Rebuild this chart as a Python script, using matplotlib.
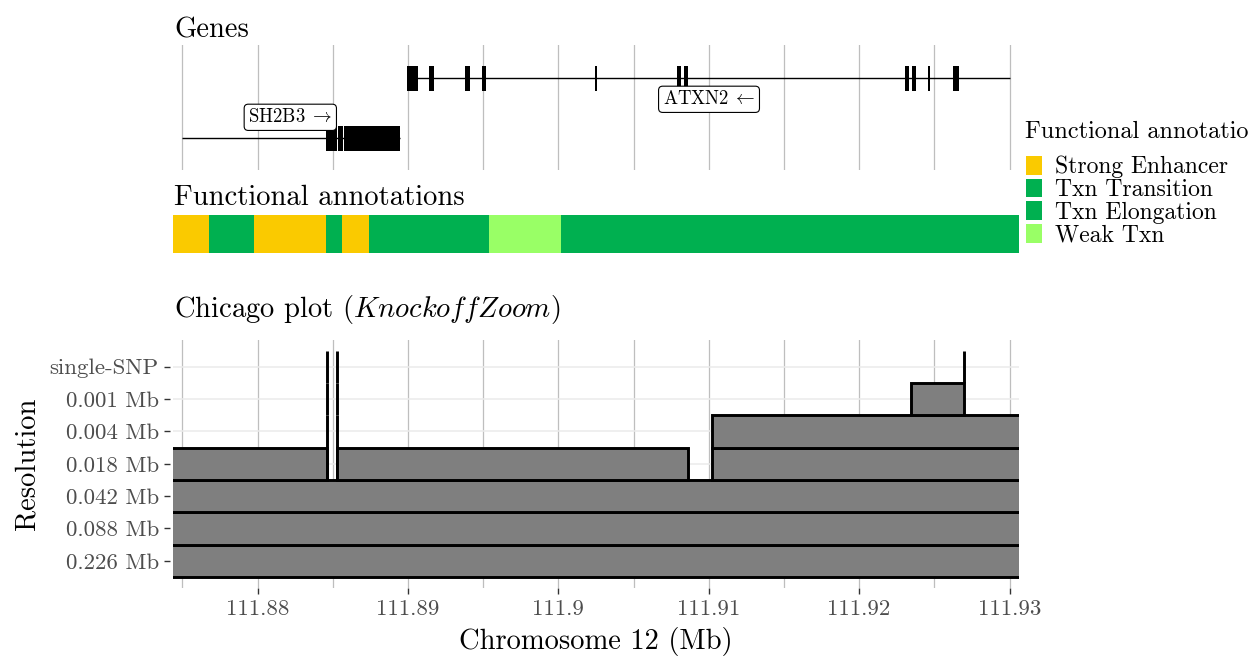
import matplotlib

matplotlib.use("Agg")

from matplotlib import pyplot as plt
from matplotlib.patches import Rectangle

plt.rcParams["font.family"] = "cmr10"
plt.rcParams["mathtext.fontset"] = "cm"
plt.rcParams["axes.formatter.use_mathtext"] = True

W, H = 1249, 656
X_MIN, X_MAX = 111.87438, 111.93063
MAJOR_TICKS = [111.88, 111.89, 111.90, 111.91, 111.92, 111.93]
MAJOR_LABELS = ["111.88", "111.89", "111.9", "111.91", "111.92", "111.93"]
MINOR_TICKS = [111.875, 111.885, 111.895, 111.905, 111.915, 111.925]

# genes (Mb)
GENE_NAMES = ["ATXN2", "SH2B3"]
GENE_ARROWS = [r"$\;\leftarrow$", r"$\;\rightarrow$"]
GENE_ROWS = [2, 1]
GENE_START = [111.88996, 111.87500]
GENE_END = [111.93000, 111.88947]
GENE_LABEL_X = [111.91002, 111.88218]
GENE_LABEL_OFFSET = [-0.35, 0.35]

ATXN2_EXON_START = [111.88996, 111.89142, 111.89382, 111.89495, 111.90247, 111.90791,
                    111.90836, 111.92307, 111.92350, 111.92458, 111.92626]
ATXN2_EXON_END = [111.89069, 111.89174, 111.89413, 111.89519, 111.90254, 111.90818,
                  111.90864, 111.92330, 111.92376, 111.92471, 111.92666]
SH2B3_EXON_START = [111.88453, 111.88535, 111.88572]
SH2B3_EXON_END = [111.88529, 111.88565, 111.88947]

# chromatin states along the locus
FA_START = [111.87438, 111.87677, 111.87977, 111.88455, 111.88562, 111.88741, 111.89539, 111.90016]
FA_END = [111.87677, 111.87977, 111.88455, 111.88562, 111.88741, 111.89539, 111.90016, 111.93063]
FA_STATE = ["Strong Enhancer", "Txn Transition", "Strong Enhancer", "Txn Elongation",
            "Strong Enhancer", "Txn Transition", "Weak Txn", "Txn Elongation"]
STATE_NAMES = ["Strong Enhancer", "Txn Transition", "Txn Elongation", "Weak Txn"]
STATE_COLORS = ["#FACA00", "#00B050", "#00B050", "#99FF66"]

# KnockoffZoom discoveries: resolution level, start, end (Mb)
RES_LABELS = ["0.226 Mb", "0.088 Mb", "0.042 Mb", "0.018 Mb", "0.004 Mb", "0.001 Mb", "single-SNP"]
CHI_LEVEL = [1, 2, 3,
             4, 4, 4, 4, 4,
             5, 5, 5,
             6, 6, 6,
             7, 7, 7]
CHI_START = [111.870, 111.870, 111.870,
             111.870, 111.88460, 111.88531, 111.88531, 111.91022,
             111.88460, 111.88531, 111.91022,
             111.88460, 111.88531, 111.92345,
             111.88460, 111.88531, 111.92695]
CHI_END = [111.935, 111.935, 111.935,
           111.88460, 111.884601, 111.885311, 111.90860, 111.935,
           111.884601, 111.885311, 111.935,
           111.884601, 111.885311, 111.92695,
           111.884601, 111.885311, 111.926951]


def px_axes(fig, left, top, right, bottom):
    return fig.add_axes([left / W, 1 - bottom / H, (right - left) / W, (bottom - top) / H])


def clean_axes(ax):
    for spine in ax.spines.values():
        spine.set_visible(False)
    ax.set_xlim(X_MIN, X_MAX)


def vertical_grid(ax):
    for x in MAJOR_TICKS + MINOR_TICKS:
        ax.axvline(x, color="#BEBEBE", linewidth=0.9, zorder=0)


fig = plt.figure(figsize=(W / 100, H / 100), dpi=100)

# genes track
ax_g = px_axes(fig, 173, 45, 1019, 170)
clean_axes(ax_g)
vertical_grid(ax_g)
ax_g.set_ylim(0.472, 2.555)
ax_g.set_xticks([])
ax_g.set_yticks([])
ax_g.hlines(GENE_ROWS, GENE_START, GENE_END, color="black", linewidth=1.0, zorder=2)
exon_h = 0.42
ax_g.broken_barh([(s, e - s) for s, e in zip(ATXN2_EXON_START, ATXN2_EXON_END)],
                 (GENE_ROWS[0] - exon_h / 2, exon_h), facecolor="black", zorder=3)
ax_g.broken_barh([(s, e - s) for s, e in zip(SH2B3_EXON_START, SH2B3_EXON_END)],
                 (GENE_ROWS[1] - exon_h / 2, exon_h), facecolor="black", zorder=3)
for name, arrow, row, lx, off in zip(GENE_NAMES, GENE_ARROWS, GENE_ROWS, GENE_LABEL_X, GENE_LABEL_OFFSET):
    ax_g.text(lx, row + off, f"{name}{arrow}", ha="center", va="center", fontsize=13.5,
              zorder=4, bbox=dict(boxstyle="round,pad=0.22", facecolor="white",
                                  edgecolor="black", linewidth=0.8))

# functional annotation track
ax_f = px_axes(fig, 173, 215, 1019, 253)
clean_axes(ax_f)
ax_f.set_ylim(0, 1)
ax_f.set_xticks([])
ax_f.set_yticks([])
state_color = dict(zip(STATE_NAMES, STATE_COLORS))
for s, e, st in zip(FA_START, FA_END, FA_STATE):
    ax_f.broken_barh([(s, e - s)], (0, 1), facecolor=state_color[st], edgecolor="none")

# chicago plot
ax_c = px_axes(fig, 173, 340, 1019, 588)
clean_axes(ax_c)
ax_c.set_ylim(0.16, 7.825)
vertical_grid(ax_c)
for lvl in range(1, len(RES_LABELS) + 1):
    ax_c.axhline(lvl, color="#EBEBEB", linewidth=1.1, zorder=0)
widths = [e - s for s, e in zip(CHI_START, CHI_END)]
bottoms = [lvl - 0.5 for lvl in CHI_LEVEL]
ax_c.bar(CHI_START, [1] * len(CHI_LEVEL), width=widths, bottom=bottoms, align="edge",
         color="#7F7F7F", edgecolor="black", linewidth=2.1, zorder=2)

ax_c.set_yticks(range(1, len(RES_LABELS) + 1))
ax_c.set_yticklabels(RES_LABELS)
ax_c.set_xticks(MAJOR_TICKS)
ax_c.set_xticklabels(MAJOR_LABELS)
ax_c.spines["left"].set_position(("outward", 2.2))
ax_c.tick_params(axis="both", colors="#333333", labelcolor="#4D4D4D", labelsize=16.5,
                 length=4.5, width=1.0)
ax_c.tick_params(axis="y", pad=3.5)
ax_c.tick_params(axis="x", pad=4)

# titles and axis labels
fig.text(174 / W, 1 - 38 / H, "Genes", fontsize=20.6, va="baseline")
fig.text(174 / W, 1 - 205 / H, "Functional annotations", fontsize=20.6, va="baseline")
fig.text(174 / W, 1 - 317.5 / H, r"Chicago plot ($\mathit{KnockoffZoom}$)", fontsize=20.6, va="baseline")
fig.text(596 / W, 1 - 649 / H, "Chromosome 12 (Mb)", fontsize=20.6, ha="center", va="baseline")
fig.text(27 / W, 1 - 464 / H, "Resolution", fontsize=20.6, ha="center", va="center", rotation=90)

# legend (its title runs off the right edge of the figure)
fig.text(1025 / W, 1 - 138.5 / H, "Functional annotation", fontsize=17.5, va="baseline")
for i, (name, col) in enumerate(zip(STATE_NAMES, STATE_COLORS)):
    top = 156 + i * 22.7
    fig.add_artist(Rectangle((1026 / W, 1 - (top + 18.5) / H), 16 / W, 18.5 / H,
                             transform=fig.transFigure, facecolor=col, edgecolor="none"))
    fig.text(1055 / W, 1 - (top + 17.3) / H, name, fontsize=17, va="baseline")

fig.savefig("out.png", dpi=100)
